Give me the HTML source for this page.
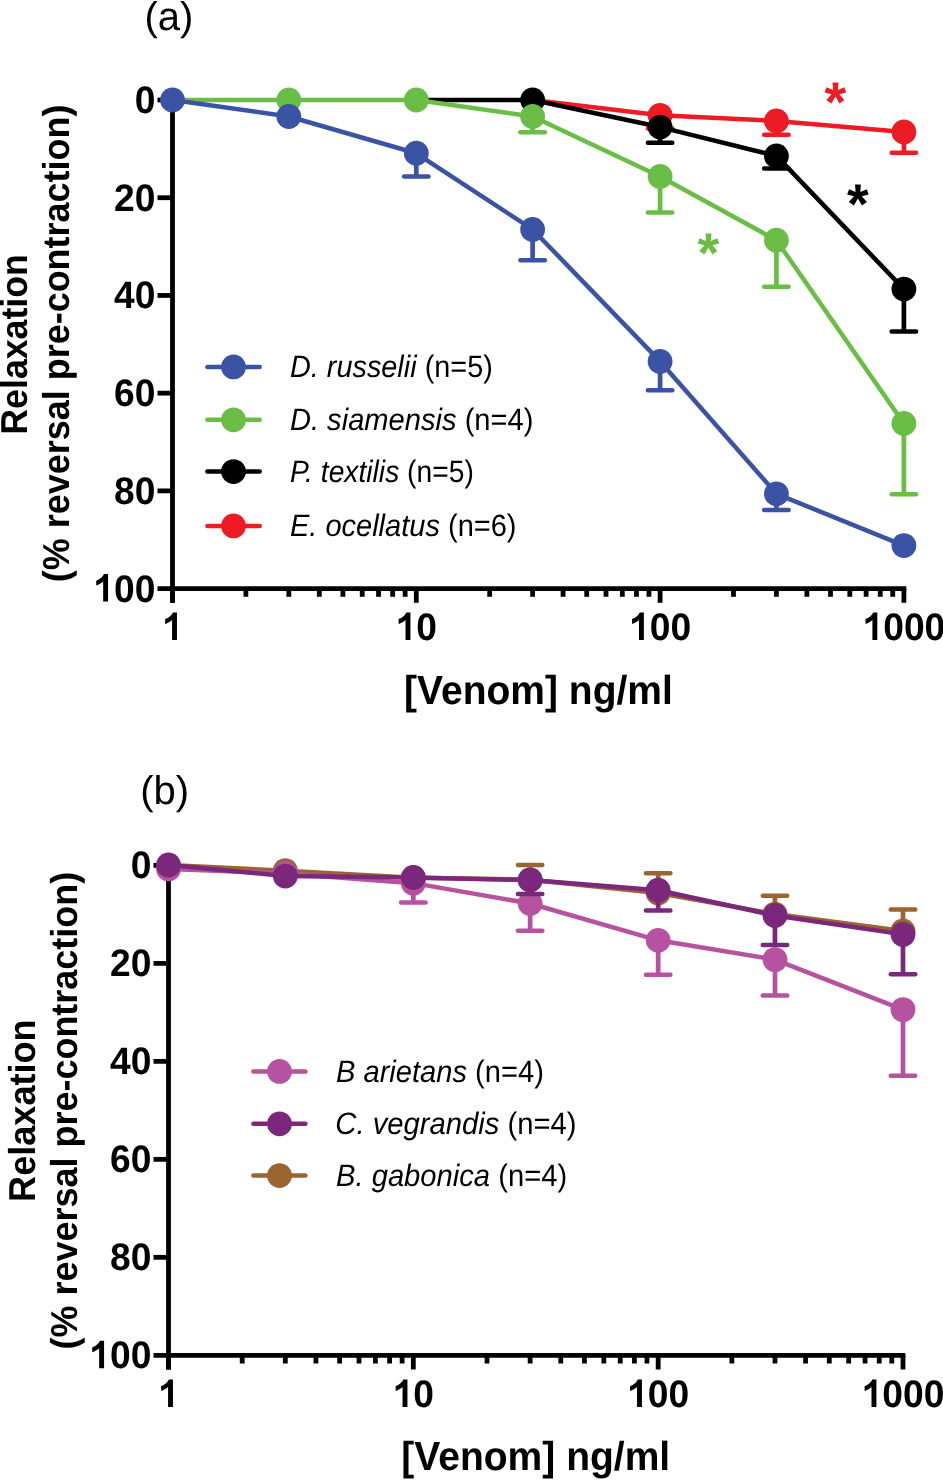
<!DOCTYPE html>
<html><head><meta charset="utf-8"><style>
html,body{margin:0;padding:0;background:#fff;}
body{width:943px;height:1480px;overflow:hidden;}
svg{display:block;font-family:"Liberation Sans",sans-serif;text-rendering:geometricPrecision;will-change:transform;}
.tick{font-size:37.2px;font-weight:bold;fill:#000;}
.ttl{font-size:40px;}
.ax{font-weight:bold;}
.leg{font-size:29.0px;}
.ast{font-weight:bold;}
</style></head>
<body><svg width="943" height="1480" viewBox="0 0 943 1480">
<rect width="943" height="1480" fill="#fff"/>
<text class="ttl" x="144.5" y="30">(a)</text>
<g stroke="#000" stroke-width="4.8" fill="none"><line x1="172.5" y1="97.6" x2="172.5" y2="602.8"/><line x1="157.5" y1="588.6" x2="906.3" y2="588.6"/><line x1="157.5" y1="100" x2="172.5" y2="100"/><line x1="157.5" y1="197.72" x2="172.5" y2="197.72"/><line x1="157.5" y1="295.44" x2="172.5" y2="295.44"/><line x1="157.5" y1="393.16" x2="172.5" y2="393.16"/><line x1="157.5" y1="490.88" x2="172.5" y2="490.88"/><line x1="172.5" y1="588.6" x2="172.5" y2="602.8"/><line x1="245.89" y1="588.6" x2="245.89" y2="596.8"/><line x1="288.82" y1="588.6" x2="288.82" y2="596.8"/><line x1="319.28" y1="588.6" x2="319.28" y2="596.8"/><line x1="342.91" y1="588.6" x2="342.91" y2="596.8"/><line x1="362.21" y1="588.6" x2="362.21" y2="596.8"/><line x1="378.53" y1="588.6" x2="378.53" y2="596.8"/><line x1="392.67" y1="588.6" x2="392.67" y2="596.8"/><line x1="405.14" y1="588.6" x2="405.14" y2="596.8"/><line x1="416.3" y1="588.6" x2="416.3" y2="602.8"/><line x1="489.69" y1="588.6" x2="489.69" y2="596.8"/><line x1="532.62" y1="588.6" x2="532.62" y2="596.8"/><line x1="563.08" y1="588.6" x2="563.08" y2="596.8"/><line x1="586.71" y1="588.6" x2="586.71" y2="596.8"/><line x1="606.01" y1="588.6" x2="606.01" y2="596.8"/><line x1="622.33" y1="588.6" x2="622.33" y2="596.8"/><line x1="636.47" y1="588.6" x2="636.47" y2="596.8"/><line x1="648.94" y1="588.6" x2="648.94" y2="596.8"/><line x1="660.1" y1="588.6" x2="660.1" y2="602.8"/><line x1="733.49" y1="588.6" x2="733.49" y2="596.8"/><line x1="776.42" y1="588.6" x2="776.42" y2="596.8"/><line x1="806.88" y1="588.6" x2="806.88" y2="596.8"/><line x1="830.51" y1="588.6" x2="830.51" y2="596.8"/><line x1="849.81" y1="588.6" x2="849.81" y2="596.8"/><line x1="866.13" y1="588.6" x2="866.13" y2="596.8"/><line x1="880.27" y1="588.6" x2="880.27" y2="596.8"/><line x1="892.74" y1="588.6" x2="892.74" y2="596.8"/><line x1="903.9" y1="588.6" x2="903.9" y2="602.8"/></g><g class="tick"><text transform="translate(134.64,112.91) scale(1,1.03)">0</text><text transform="translate(113.95,210.63) scale(1,1.03)">20</text><text transform="translate(113.95,308.35) scale(1,1.03)">40</text><text transform="translate(113.95,406.07) scale(1,1.03)">60</text><text transform="translate(113.95,503.79) scale(1,1.03)">80</text><path transform="translate(93.26,601.51)" d="M 9.9 0 L 14.8 0 L 14.8 -27.4 L 10.7 -27.4 C 9.8 -25.0 7.4 -22.4 3.0 -20.8 L 3.0 -16.0 C 5.6 -16.8 8.1 -18.2 9.9 -19.95 Z"/><text transform="translate(113.95,601.51) scale(1,1.03)">00</text><path transform="translate(162.16,639.9)" d="M 9.9 0 L 14.8 0 L 14.8 -27.4 L 10.7 -27.4 C 9.8 -25.0 7.4 -22.4 3.0 -20.8 L 3.0 -16.0 C 5.6 -16.8 8.1 -18.2 9.9 -19.95 Z"/><path transform="translate(395.61,639.9)" d="M 9.9 0 L 14.8 0 L 14.8 -27.4 L 10.7 -27.4 C 9.8 -25.0 7.4 -22.4 3.0 -20.8 L 3.0 -16.0 C 5.6 -16.8 8.1 -18.2 9.9 -19.95 Z"/><text transform="translate(416.3,639.9) scale(1,1.03)">0</text><path transform="translate(629.07,639.9)" d="M 9.9 0 L 14.8 0 L 14.8 -27.4 L 10.7 -27.4 C 9.8 -25.0 7.4 -22.4 3.0 -20.8 L 3.0 -16.0 C 5.6 -16.8 8.1 -18.2 9.9 -19.95 Z"/><text transform="translate(649.76,639.9) scale(1,1.03)">00</text><path transform="translate(862.52,639.9)" d="M 9.9 0 L 14.8 0 L 14.8 -27.4 L 10.7 -27.4 C 9.8 -25.0 7.4 -22.4 3.0 -20.8 L 3.0 -16.0 C 5.6 -16.8 8.1 -18.2 9.9 -19.95 Z"/><text transform="translate(883.21,639.9) scale(1,1.03)">000</text></g>
<g stroke="#ED1C24" fill="#ED1C24"><polyline points="532.62,100 660.1,115.34 776.42,120.91 903.9,131.91" fill="none" stroke-width="4.5" stroke-linejoin="round"/><line x1="660.1" y1="115.34" x2="660.1" y2="128.58" stroke-width="4.7"/><line x1="647.9" y1="128.58" x2="672.3" y2="128.58" stroke-width="4.5" stroke-linecap="round"/><line x1="776.42" y1="120.91" x2="776.42" y2="134.69" stroke-width="4.7"/><line x1="764.22" y1="134.69" x2="788.62" y2="134.69" stroke-width="4.5" stroke-linecap="round"/><line x1="903.9" y1="131.91" x2="903.9" y2="152.77" stroke-width="4.7"/><line x1="891.7" y1="152.77" x2="916.1" y2="152.77" stroke-width="4.5" stroke-linecap="round"/><circle cx="660.1" cy="115.34" r="12.4" stroke="none"/><circle cx="776.42" cy="120.91" r="12.4" stroke="none"/><circle cx="903.9" cy="131.91" r="12.4" stroke="none"/></g>
<g stroke="#000000" fill="#000000"><polyline points="416.3,100 532.62,100 660.1,127.07 776.42,155.9 903.9,289.09" fill="none" stroke-width="4.5" stroke-linejoin="round"/><line x1="660.1" y1="127.07" x2="660.1" y2="142.7" stroke-width="4.7"/><line x1="647.9" y1="142.7" x2="672.3" y2="142.7" stroke-width="4.5" stroke-linecap="round"/><line x1="776.42" y1="155.9" x2="776.42" y2="168.4" stroke-width="4.7"/><line x1="764.22" y1="168.4" x2="788.62" y2="168.4" stroke-width="4.5" stroke-linecap="round"/><line x1="903.9" y1="289.09" x2="903.9" y2="331.6" stroke-width="4.7"/><line x1="891.7" y1="331.6" x2="916.1" y2="331.6" stroke-width="4.5" stroke-linecap="round"/><circle cx="532.62" cy="100" r="12.4" stroke="none"/><circle cx="660.1" cy="127.07" r="12.4" stroke="none"/><circle cx="776.42" cy="155.9" r="12.4" stroke="none"/><circle cx="903.9" cy="289.09" r="12.4" stroke="none"/></g>
<g stroke="#6ABD45" fill="#6ABD45"><polyline points="172.5,100 288.82,100 416.3,100 532.62,116.51 660.1,176.51 776.42,240.23 903.9,423.45" fill="none" stroke-width="4.5" stroke-linejoin="round"/><line x1="532.62" y1="116.51" x2="532.62" y2="132.25" stroke-width="4.7"/><line x1="520.42" y1="132.25" x2="544.82" y2="132.25" stroke-width="4.5" stroke-linecap="round"/><line x1="660.1" y1="176.51" x2="660.1" y2="212.38" stroke-width="4.7"/><line x1="647.9" y1="212.38" x2="672.3" y2="212.38" stroke-width="4.5" stroke-linecap="round"/><line x1="776.42" y1="240.23" x2="776.42" y2="286.65" stroke-width="4.7"/><line x1="764.22" y1="286.65" x2="788.62" y2="286.65" stroke-width="4.5" stroke-linecap="round"/><line x1="903.9" y1="423.45" x2="903.9" y2="494.3" stroke-width="4.7"/><line x1="891.7" y1="494.3" x2="916.1" y2="494.3" stroke-width="4.5" stroke-linecap="round"/><circle cx="288.82" cy="100" r="12.4" stroke="none"/><circle cx="416.3" cy="100" r="12.4" stroke="none"/><circle cx="532.62" cy="116.51" r="12.4" stroke="none"/><circle cx="660.1" cy="176.51" r="12.4" stroke="none"/><circle cx="776.42" cy="240.23" r="12.4" stroke="none"/><circle cx="903.9" cy="423.45" r="12.4" stroke="none"/></g>
<g stroke="#3A53A4" fill="#3A53A4"><polyline points="172.5,100 288.82,116.51 416.3,153.26 532.62,229.48 660.1,361.4 776.42,493.81 903.9,545.6" fill="none" stroke-width="4.5" stroke-linejoin="round"/><line x1="416.3" y1="153.26" x2="416.3" y2="176.61" stroke-width="4.7"/><line x1="404.1" y1="176.61" x2="428.5" y2="176.61" stroke-width="4.5" stroke-linecap="round"/><line x1="532.62" y1="229.48" x2="532.62" y2="260.26" stroke-width="4.7"/><line x1="520.42" y1="260.26" x2="544.82" y2="260.26" stroke-width="4.5" stroke-linecap="round"/><line x1="660.1" y1="361.4" x2="660.1" y2="390.23" stroke-width="4.7"/><line x1="647.9" y1="390.23" x2="672.3" y2="390.23" stroke-width="4.5" stroke-linecap="round"/><line x1="776.42" y1="493.81" x2="776.42" y2="509.94" stroke-width="4.7"/><line x1="764.22" y1="509.94" x2="788.62" y2="509.94" stroke-width="4.5" stroke-linecap="round"/><circle cx="172.5" cy="100" r="12.4" stroke="none"/><circle cx="288.82" cy="116.51" r="12.4" stroke="none"/><circle cx="416.3" cy="153.26" r="12.4" stroke="none"/><circle cx="532.62" cy="229.48" r="12.4" stroke="none"/><circle cx="660.1" cy="361.4" r="12.4" stroke="none"/><circle cx="776.42" cy="493.81" r="12.4" stroke="none"/><circle cx="903.9" cy="545.6" r="12.4" stroke="none"/></g>
<line x1="207.4" y1="366.9" x2="259.7" y2="366.9" stroke="#3A53A4" stroke-width="4.5" stroke-linecap="round"/><circle cx="233.5" cy="366.9" r="12.4" fill="#3A53A4"/><text class="leg" transform="translate(289.91,377.3) scale(0.9952,1.065)"><tspan font-style="italic">D. russelii</tspan> (n=5)</text><line x1="207.4" y1="419.8" x2="259.7" y2="419.8" stroke="#6ABD45" stroke-width="4.5" stroke-linecap="round"/><circle cx="233.5" cy="419.8" r="12.4" fill="#6ABD45"/><text class="leg" transform="translate(289.9,430.2) scale(1.0039,1.065)"><tspan font-style="italic">D. siamensis</tspan> (n=4)</text><line x1="207.4" y1="471.6" x2="259.7" y2="471.6" stroke="#000000" stroke-width="4.5" stroke-linecap="round"/><circle cx="233.5" cy="471.6" r="12.4" fill="#000000"/><text class="leg" transform="translate(289.93,482) scale(0.9737,1.065)"><tspan font-style="italic">P. textilis</tspan> (n=5)</text><line x1="207.4" y1="525.9" x2="259.7" y2="525.9" stroke="#ED1C24" stroke-width="4.5" stroke-linecap="round"/><circle cx="233.5" cy="525.9" r="12.4" fill="#ED1C24"/><text class="leg" transform="translate(289.91,536.3) scale(1.0005,1.065)"><tspan font-style="italic">E. ocellatus</tspan> (n=6)</text>
<text class="ast" style="font-size:55.8px" x="835.45" y="120.8" fill="#ED1C24" text-anchor="middle">*</text>
<text class="ast" style="font-size:55.8px" x="857.85" y="222.6" fill="#000000" text-anchor="middle">*</text>
<text class="ast" style="font-size:55.8px" x="708.45" y="271.6" fill="#6ABD45" text-anchor="middle">*</text>
<text class="ax" style="font-size:39.0px" transform="translate(404.11,703.6) scale(1.0001,1.04)">[Venom] ng/ml</text>
<text class="ax" style="font-size:36.0px" transform="translate(26.6,434.69) rotate(-90) scale(0.9920,1.04)">Relaxation</text>
<text class="ax" style="font-size:36.0px" transform="translate(69.15,582.29) rotate(-90) scale(0.9992,1.04)">(% reversal pre-contraction)</text>
<text class="ttl" x="140.2" y="804">(b)</text>
<g stroke="#000" stroke-width="4.8" fill="none"><line x1="168.5" y1="863" x2="168.5" y2="1369.5"/><line x1="153.5" y1="1355.3" x2="905.39" y2="1355.3"/><line x1="153.5" y1="865.4" x2="168.5" y2="865.4"/><line x1="153.5" y1="963.38" x2="168.5" y2="963.38"/><line x1="153.5" y1="1061.36" x2="168.5" y2="1061.36"/><line x1="153.5" y1="1159.34" x2="168.5" y2="1159.34"/><line x1="153.5" y1="1257.32" x2="168.5" y2="1257.32"/><line x1="168.5" y1="1355.3" x2="168.5" y2="1369.5"/><line x1="242.2" y1="1355.3" x2="242.2" y2="1363.5"/><line x1="285.31" y1="1355.3" x2="285.31" y2="1363.5"/><line x1="315.9" y1="1355.3" x2="315.9" y2="1363.5"/><line x1="339.63" y1="1355.3" x2="339.63" y2="1363.5"/><line x1="359.01" y1="1355.3" x2="359.01" y2="1363.5"/><line x1="375.41" y1="1355.3" x2="375.41" y2="1363.5"/><line x1="389.6" y1="1355.3" x2="389.6" y2="1363.5"/><line x1="402.13" y1="1355.3" x2="402.13" y2="1363.5"/><line x1="413.33" y1="1355.3" x2="413.33" y2="1369.5"/><line x1="487.03" y1="1355.3" x2="487.03" y2="1363.5"/><line x1="530.14" y1="1355.3" x2="530.14" y2="1363.5"/><line x1="560.73" y1="1355.3" x2="560.73" y2="1363.5"/><line x1="584.46" y1="1355.3" x2="584.46" y2="1363.5"/><line x1="603.84" y1="1355.3" x2="603.84" y2="1363.5"/><line x1="620.24" y1="1355.3" x2="620.24" y2="1363.5"/><line x1="634.43" y1="1355.3" x2="634.43" y2="1363.5"/><line x1="646.96" y1="1355.3" x2="646.96" y2="1363.5"/><line x1="658.16" y1="1355.3" x2="658.16" y2="1369.5"/><line x1="731.86" y1="1355.3" x2="731.86" y2="1363.5"/><line x1="774.97" y1="1355.3" x2="774.97" y2="1363.5"/><line x1="805.56" y1="1355.3" x2="805.56" y2="1363.5"/><line x1="829.29" y1="1355.3" x2="829.29" y2="1363.5"/><line x1="848.67" y1="1355.3" x2="848.67" y2="1363.5"/><line x1="865.07" y1="1355.3" x2="865.07" y2="1363.5"/><line x1="879.26" y1="1355.3" x2="879.26" y2="1363.5"/><line x1="891.79" y1="1355.3" x2="891.79" y2="1363.5"/><line x1="902.99" y1="1355.3" x2="902.99" y2="1369.5"/></g><g class="tick"><text transform="translate(130.64,878.31) scale(1,1.03)">0</text><text transform="translate(109.95,976.29) scale(1,1.03)">20</text><text transform="translate(109.95,1074.27) scale(1,1.03)">40</text><text transform="translate(109.95,1172.25) scale(1,1.03)">60</text><text transform="translate(109.95,1270.23) scale(1,1.03)">80</text><path transform="translate(89.26,1368.21)" d="M 9.9 0 L 14.8 0 L 14.8 -27.4 L 10.7 -27.4 C 9.8 -25.0 7.4 -22.4 3.0 -20.8 L 3.0 -16.0 C 5.6 -16.8 8.1 -18.2 9.9 -19.95 Z"/><text transform="translate(109.95,1368.21) scale(1,1.03)">00</text><path transform="translate(158.16,1407)" d="M 9.9 0 L 14.8 0 L 14.8 -27.4 L 10.7 -27.4 C 9.8 -25.0 7.4 -22.4 3.0 -20.8 L 3.0 -16.0 C 5.6 -16.8 8.1 -18.2 9.9 -19.95 Z"/><path transform="translate(392.64,1407)" d="M 9.9 0 L 14.8 0 L 14.8 -27.4 L 10.7 -27.4 C 9.8 -25.0 7.4 -22.4 3.0 -20.8 L 3.0 -16.0 C 5.6 -16.8 8.1 -18.2 9.9 -19.95 Z"/><text transform="translate(413.33,1407) scale(1,1.03)">0</text><path transform="translate(627.13,1407)" d="M 9.9 0 L 14.8 0 L 14.8 -27.4 L 10.7 -27.4 C 9.8 -25.0 7.4 -22.4 3.0 -20.8 L 3.0 -16.0 C 5.6 -16.8 8.1 -18.2 9.9 -19.95 Z"/><text transform="translate(647.82,1407) scale(1,1.03)">00</text><path transform="translate(861.61,1407)" d="M 9.9 0 L 14.8 0 L 14.8 -27.4 L 10.7 -27.4 C 9.8 -25.0 7.4 -22.4 3.0 -20.8 L 3.0 -16.0 C 5.6 -16.8 8.1 -18.2 9.9 -19.95 Z"/><text transform="translate(882.3,1407) scale(1,1.03)">000</text></g>
<g stroke="#9C6431" fill="#9C6431"><polyline points="168.5,865 285.31,870.64 413.33,877.75 530.14,879.71 658.16,892.94 774.97,914.03 902.99,930.94" fill="none" stroke-width="4.5" stroke-linejoin="round"/><line x1="530.14" y1="879.71" x2="530.14" y2="865" stroke-width="4.7"/><line x1="517.94" y1="865" x2="542.34" y2="865" stroke-width="4.5" stroke-linecap="round"/><line x1="658.16" y1="892.94" x2="658.16" y2="873.33" stroke-width="4.7"/><line x1="645.96" y1="873.33" x2="670.36" y2="873.33" stroke-width="4.5" stroke-linecap="round"/><line x1="774.97" y1="914.03" x2="774.97" y2="895.69" stroke-width="4.7"/><line x1="762.77" y1="895.69" x2="787.17" y2="895.69" stroke-width="4.5" stroke-linecap="round"/><line x1="902.99" y1="930.94" x2="902.99" y2="909.61" stroke-width="4.7"/><line x1="890.79" y1="909.61" x2="915.19" y2="909.61" stroke-width="4.5" stroke-linecap="round"/><circle cx="285.31" cy="870.64" r="12.4" stroke="none"/><circle cx="413.33" cy="877.75" r="12.4" stroke="none"/><circle cx="530.14" cy="879.71" r="12.4" stroke="none"/><circle cx="658.16" cy="892.94" r="12.4" stroke="none"/><circle cx="774.97" cy="914.03" r="12.4" stroke="none"/><circle cx="902.99" cy="930.94" r="12.4" stroke="none"/></g>
<g stroke="#B652A0" fill="#B652A0"><polyline points="168.5,868.92 285.31,873.48 413.33,883.14 530.14,903.48 658.16,940.3 774.97,959.62 902.99,1009.62" fill="none" stroke-width="4.5" stroke-linejoin="round"/><line x1="413.33" y1="883.14" x2="413.33" y2="902.6" stroke-width="4.7"/><line x1="401.13" y1="902.6" x2="425.53" y2="902.6" stroke-width="4.5" stroke-linecap="round"/><line x1="530.14" y1="903.48" x2="530.14" y2="930.69" stroke-width="4.7"/><line x1="517.94" y1="930.69" x2="542.34" y2="930.69" stroke-width="4.5" stroke-linecap="round"/><line x1="658.16" y1="940.3" x2="658.16" y2="974.82" stroke-width="4.7"/><line x1="645.96" y1="974.82" x2="670.36" y2="974.82" stroke-width="4.5" stroke-linecap="round"/><line x1="774.97" y1="959.62" x2="774.97" y2="995.41" stroke-width="4.7"/><line x1="762.77" y1="995.41" x2="787.17" y2="995.41" stroke-width="4.5" stroke-linecap="round"/><line x1="902.99" y1="1009.62" x2="902.99" y2="1075.81" stroke-width="4.7"/><line x1="890.79" y1="1075.81" x2="915.19" y2="1075.81" stroke-width="4.5" stroke-linecap="round"/><circle cx="168.5" cy="868.92" r="12.4" stroke="none"/><circle cx="285.31" cy="873.48" r="12.4" stroke="none"/><circle cx="413.33" cy="883.14" r="12.4" stroke="none"/><circle cx="530.14" cy="903.48" r="12.4" stroke="none"/><circle cx="658.16" cy="940.3" r="12.4" stroke="none"/><circle cx="774.97" cy="959.62" r="12.4" stroke="none"/><circle cx="902.99" cy="1009.62" r="12.4" stroke="none"/></g>
<g stroke="#7A277C" fill="#7A277C"><polyline points="168.5,865 285.31,876.08 413.33,877.5 530.14,880.1 658.16,890.2 774.97,915.5 902.99,934.37" fill="none" stroke-width="4.5" stroke-linejoin="round"/><line x1="530.14" y1="880.1" x2="530.14" y2="893.92" stroke-width="4.7"/><line x1="517.94" y1="893.92" x2="542.34" y2="893.92" stroke-width="4.5" stroke-linecap="round"/><line x1="658.16" y1="890.2" x2="658.16" y2="910.5" stroke-width="4.7"/><line x1="645.96" y1="910.5" x2="670.36" y2="910.5" stroke-width="4.5" stroke-linecap="round"/><line x1="774.97" y1="915.5" x2="774.97" y2="944.91" stroke-width="4.7"/><line x1="762.77" y1="944.91" x2="787.17" y2="944.91" stroke-width="4.5" stroke-linecap="round"/><line x1="902.99" y1="934.37" x2="902.99" y2="974.33" stroke-width="4.7"/><line x1="890.79" y1="974.33" x2="915.19" y2="974.33" stroke-width="4.5" stroke-linecap="round"/><circle cx="168.5" cy="865" r="12.4" stroke="none"/><circle cx="285.31" cy="876.08" r="12.4" stroke="none"/><circle cx="413.33" cy="877.5" r="12.4" stroke="none"/><circle cx="530.14" cy="880.1" r="12.4" stroke="none"/><circle cx="658.16" cy="890.2" r="12.4" stroke="none"/><circle cx="774.97" cy="915.5" r="12.4" stroke="none"/><circle cx="902.99" cy="934.37" r="12.4" stroke="none"/></g>
<line x1="253.4" y1="1071.4" x2="305.4" y2="1071.4" stroke="#B652A0" stroke-width="4.5" stroke-linecap="round"/><circle cx="279.5" cy="1071.4" r="12.4" fill="#B652A0"/><text class="leg" transform="translate(336.01,1081.8) scale(1.0032,1.065)"><tspan font-style="italic">B arietans</tspan> (n=4)</text><line x1="253.4" y1="1123.8" x2="305.4" y2="1123.8" stroke="#7A277C" stroke-width="4.5" stroke-linecap="round"/><circle cx="279.5" cy="1123.8" r="12.4" fill="#7A277C"/><text class="leg" transform="translate(335.29,1134.2) scale(1.0078,1.065)"><tspan font-style="italic">C. vegrandis</tspan> (n=4)</text><line x1="253.4" y1="1175.6" x2="305.4" y2="1175.6" stroke="#9C6431" stroke-width="4.5" stroke-linecap="round"/><circle cx="279.5" cy="1175.6" r="12.4" fill="#9C6431"/><text class="leg" transform="translate(336,1186) scale(1.0060,1.065)"><tspan font-style="italic">B. gabonica</tspan> (n=4)</text>
<text class="ax" style="font-size:39.0px" transform="translate(401.31,1470.4) scale(1.0008,1.04)">[Venom] ng/ml</text>
<text class="ax" style="font-size:36.0px" transform="translate(34.6,1201.91) rotate(-90) scale(1.0027,1.04)">Relaxation</text>
<text class="ax" style="font-size:36.0px" transform="translate(76.6,1349.39) rotate(-90) scale(0.9988,1.04)">(% reversal pre-contraction)</text>
</svg></body></html>
